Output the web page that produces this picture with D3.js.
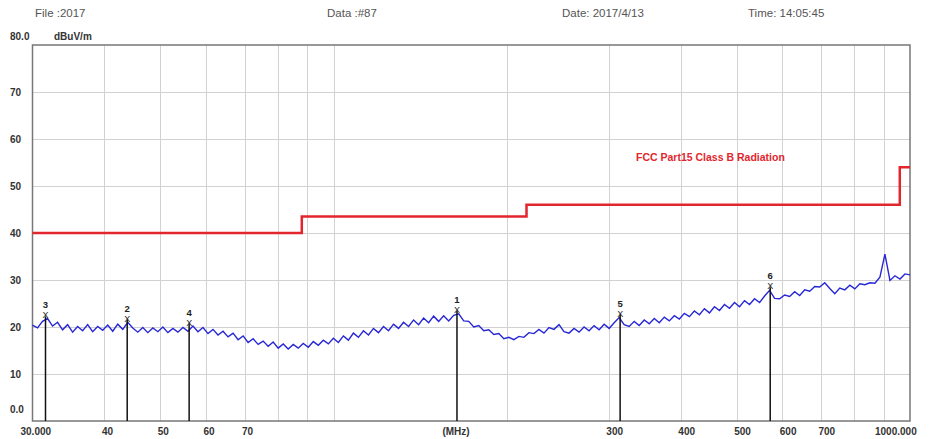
<!DOCTYPE html>
<html>
<head>
<meta charset="utf-8">
<script src="https://d3js.org/d3.v7.min.js"></script>
<style>
  body { margin: 0; background: #fff; }
  svg { display: block; font-family: Arial, "Liberation Sans", sans-serif; }
</style>
</head>
<body>
<svg id="canvas" width="936" height="439"></svg>
<script>

// Header fields
var headerTexts = ['File :2017', 'Data :#87', 'Date: 2017/4/13', 'Time: 14:05:45'];

var sweepStart = 30;
var sweepStop = 1000;
var traceLevels = [
  20.4, 19.8, 21.2, 21.8, 20.2, 21.0, 19.4, 20.5, 18.9, 20.1,
  19.2, 20.5, 19.0, 20.1, 19.3, 20.4, 19.1, 20.6, 19.5, 21.0,
  19.8, 18.9, 19.9, 18.8, 19.8, 19.0, 20.0, 18.8, 19.7, 18.9,
  19.9, 19.1, 20.2, 19.0, 19.9, 18.6, 19.5, 18.3, 19.1, 17.9,
  18.7, 17.3, 18.1, 16.7, 17.5, 16.3, 17.0, 15.9, 16.8, 15.5,
  16.4, 15.3, 16.3, 15.5, 16.5, 15.7, 16.9, 16.1, 17.2, 16.4,
  17.6, 16.7, 18.1, 17.2, 18.7, 17.8, 19.2, 18.3, 19.7, 18.8,
  20.1, 19.2, 20.6, 19.7, 21.0, 20.1, 21.5, 20.5, 21.9, 20.9,
  22.3, 21.2, 22.4, 21.3, 22.5, 22.8, 21.3, 21.2, 20.0, 20.3,
  19.2, 19.4, 18.4, 18.6, 17.5, 17.8, 17.3, 18.0, 17.8, 18.8,
  18.6, 19.5, 18.7, 19.9, 19.5, 20.5, 19.0, 18.7, 19.7, 18.9,
  20.0, 19.2, 20.3, 19.4, 20.6, 19.7, 20.9, 22.0, 20.5, 20.1,
  21.2, 20.3, 21.5, 20.7, 21.8, 20.9, 22.1, 21.3, 22.4, 21.7,
  22.9, 22.2, 23.4, 22.6, 23.9, 23.0, 24.3, 23.5, 24.8, 24.0,
  25.2, 24.3, 25.6, 24.8, 26.0, 25.2, 26.6, 27.8, 26.1, 26.0,
  26.8, 26.5, 27.5, 26.7, 27.9, 27.6, 28.6, 28.5, 29.4, 28.2,
  27.1, 28.3, 27.9, 28.9, 28.1, 29.2, 29.0, 29.4, 29.3, 30.6,
  35.5, 29.9, 30.9, 30.2, 31.3, 31.1
];

// FCC Part15 Class B limit steps
var limitFreqs = [30, 88, 216, 960, 1000];
var limitLevels = [40, 43.5, 46, 54, 54];
var limitName = 'FCC Part15 Class B Radiation';

// Peak markers
var markerNums = [1, 2, 3, 4, 5, 6];
var markerFreqs = [163.6, 43.8, 31.6, 56.1, 314.0, 572.0];
var markerLevels = [22.8, 20.9, 21.6, 20.1, 22.0, 27.8];

// Axes
var yTicks = [0, 10, 20, 30, 40, 50, 60, 70, 80];
var yTickLabels = ['0.0', '10', '20', '30', '40', '50', '60', '70', '80.0'];
var xGrid = [40, 50, 60, 70, 80, 90, 100, 200, 300, 400, 500, 600, 700, 800, 900];
var xTickVals = [30, 40, 50, 60, 70, 300, 400, 500, 600, 700, 1000];
var xTickLabels = ['30.000', '40', '50', '60', '70', '300', '400', '500', '600', '700', '1000.000'];


var margin = { top: 45, right: 26, bottom: 18, left: 32.5 };
var width = 936, height = 439;

var svg = d3.select('#canvas');

var x = d3.scaleLog()
  .domain([sweepStart, sweepStop])
  .range([margin.left, width - margin.right]);

var y = d3.scaleLinear()
  .domain([0, 80])
  .range([height - margin.bottom, margin.top]);

// header line
var headerX = [35, 327, 562, 748];
svg.append('g').selectAll('text')
  .data(headerTexts)
  .enter().append('text')
  .attr('x', function (d, i) { return headerX[i]; })
  .attr('y', 17)
  .attr('fill', '#555')
  .attr('font-size', 11.5)
  .text(function (d) { return d; });

// grid
var grid = svg.append('g').attr('stroke', '#d2d2d2').attr('stroke-width', 1);
grid.selectAll('.vg')
  .data(xGrid)
  .enter().append('line')
  .attr('x1', function (d) { return Math.round(x(d)) + 0.5; })
  .attr('x2', function (d) { return Math.round(x(d)) + 0.5; })
  .attr('y1', y(80))
  .attr('y2', y(0));
grid.selectAll('.hg')
  .data(yTicks.slice(1, -1))
  .enter().append('line')
  .attr('x1', x(sweepStart))
  .attr('x2', x(sweepStop))
  .attr('y1', function (d) { return Math.round(y(d)) + 0.5; })
  .attr('y2', function (d) { return Math.round(y(d)) + 0.5; });

// frame
svg.append('rect')
  .attr('x', x(sweepStart))
  .attr('y', y(80))
  .attr('width', x(sweepStop) - x(sweepStart))
  .attr('height', y(0) - y(80))
  .attr('fill', 'none')
  .attr('stroke', '#777')
  .attr('stroke-width', 1.5);

// y labels
svg.append('g').selectAll('text')
  .data(yTicks)
  .enter().append('text')
  .attr('x', 10)
  .attr('y', function (d) {
    if (d === 0) return y(d) - 8;
    if (d === 80) return y(d) - 5;
    return y(d) + 4;
  })
  .attr('font-size', 10)
  .attr('font-weight', 'bold')
  .attr('fill', '#333')
  .text(function (d, i) { return yTickLabels[i]; });

svg.append('text')
  .attr('x', 54)
  .attr('y', 40)
  .attr('font-size', 10)
  .attr('font-weight', 'bold')
  .attr('fill', '#333')
  .text('dBuV/m');

// x labels
svg.append('g').selectAll('text')
  .data(xTickVals)
  .enter().append('text')
  .attr('x', function (d) {
    if (d === sweepStart) return x(d) - 12;
    if (d === sweepStop) return x(d) - 35;
    return x(d) + (d < 100 ? 3 : 6);
  })
  .attr('y', 435)
  .attr('text-anchor', function (d) { return (d === sweepStart || d === sweepStop) ? 'start' : 'middle'; })
  .attr('font-size', 10)
  .attr('font-weight', 'bold')
  .attr('fill', '#333')
  .text(function (d, i) { return xTickLabels[i]; });

svg.append('text')
  .attr('x', 456)
  .attr('y', 435)
  .attr('text-anchor', 'middle')
  .attr('font-size', 10)
  .attr('font-weight', 'bold')
  .attr('fill', '#333')
  .text('(MHz)');

// limit line
var limitData = limitFreqs.map(function (f, i) { return [f, limitLevels[i]]; });
svg.append('path')
  .datum(limitData)
  .attr('fill', 'none')
  .attr('stroke', '#e3262e')
  .attr('stroke-width', 2.5)
  .attr('d', d3.line()
    .x(function (d) { return x(d[0]); })
    .y(function (d) { return y(d[1]); })
    .curve(d3.curveStepAfter));

svg.append('text')
  .attr('x', 636)
  .attr('y', 161)
  .attr('font-size', 10.5)
  .attr('font-weight', 'bold')
  .attr('fill', '#e3262e')
  .text(limitName);

// trace, points spaced evenly on the log sweep
var n = traceLevels.length;
var traceData = traceLevels.map(function (v, i) {
  return [sweepStart * Math.pow(sweepStop / sweepStart, i / (n - 1)), v];
});
svg.append('path')
  .datum(traceData)
  .attr('fill', 'none')
  .attr('stroke', '#2727d6')
  .attr('stroke-width', 1.4)
  .attr('d', d3.line()
    .x(function (d) { return x(d[0]); })
    .y(function (d) { return y(d[1]); }));

// markers
var mk = svg.append('g').selectAll('g')
  .data(markerNums)
  .enter().append('g')
  .attr('transform', function (d, i) {
    return 'translate(' + x(markerFreqs[i]) + ',' + y(markerLevels[i]) + ')';
  });

mk.append('line')
  .attr('x1', 0).attr('x2', 0)
  .attr('y1', -3)
  .attr('y2', function (d, i) { return y(0) - y(markerLevels[i]); })
  .attr('stroke', '#111')
  .attr('stroke-width', 1.5);

mk.append('text')
  .attr('y', -1)
  .attr('text-anchor', 'middle')
  .attr('font-size', 9)
  .attr('fill', '#222')
  .text('X');

mk.append('text')
  .attr('y', -11)
  .attr('text-anchor', 'middle')
  .attr('font-size', 9.5)
  .attr('font-weight', 'bold')
  .attr('fill', '#222')
  .text(function (d) { return d; });

</script>
</body>
</html>
